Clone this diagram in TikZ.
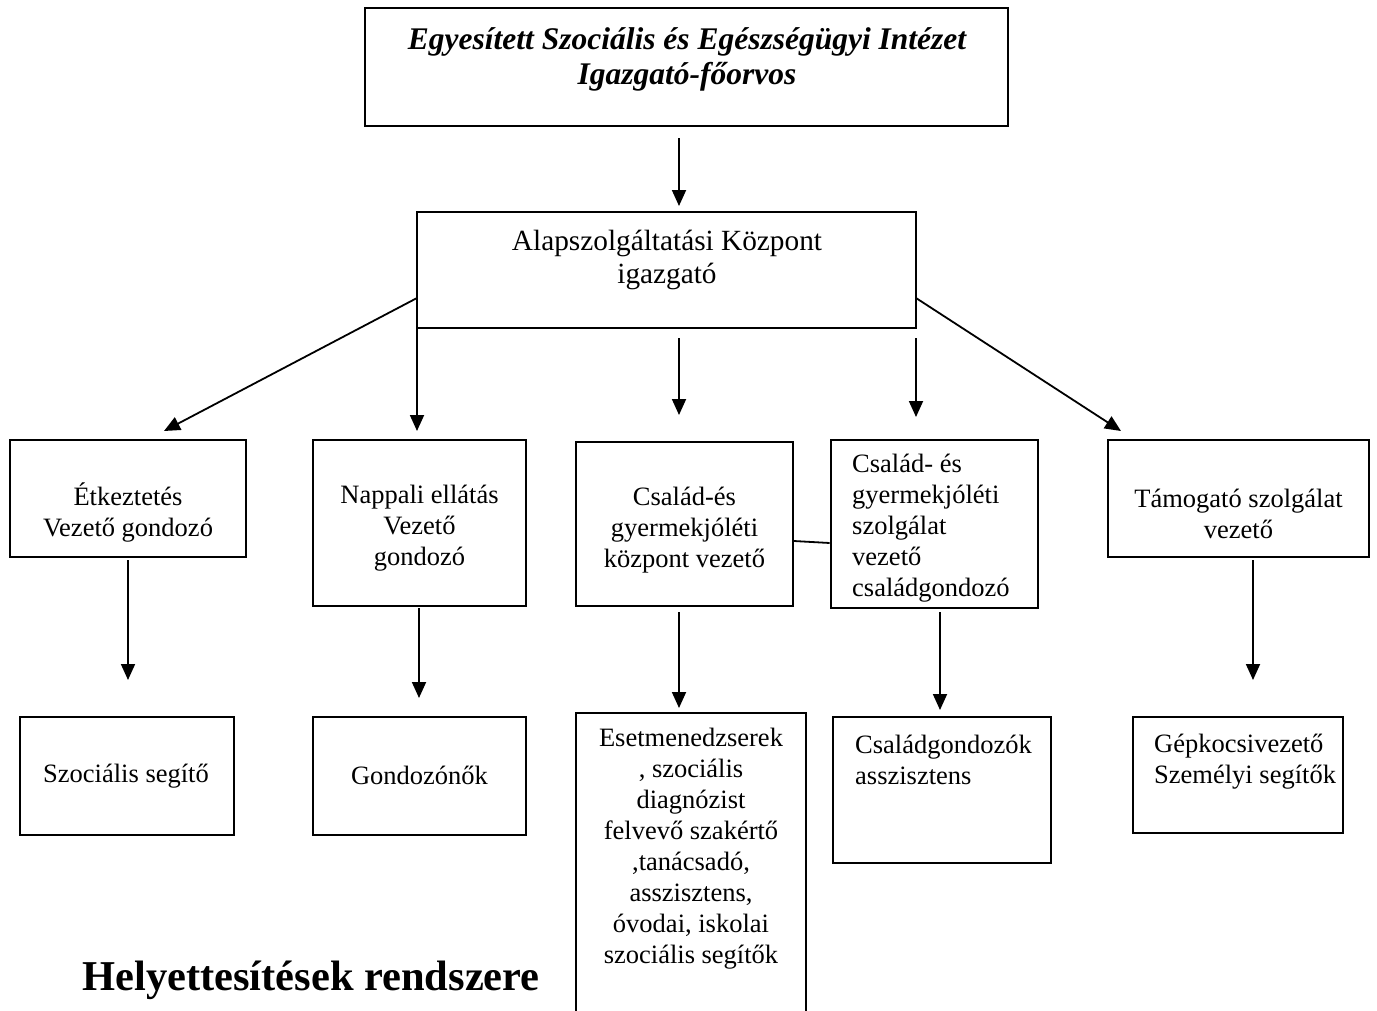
\documentclass[tikz,border=0pt]{standalone}
\usepackage{fontspec}
\setmainfont{Liberation Serif}
\usetikzlibrary{arrows.meta}
\begin{document}
\begin{tikzpicture}[x=1pt,y=-1pt,
  box/.style={draw, line width=1.8pt, inner sep=0pt},
  heavybox/.style={draw, line width=2.8pt, inner sep=0pt},
  txt/.style={inner sep=0pt, font=\fontsize{26.5}{31}\selectfont, align=center},
  ltxt/.style={inner sep=0pt, font=\fontsize{26.5}{31}\selectfont, align=left, anchor=west},
  arr/.style={line width=1.8pt, -{Triangle[length=16pt,width=14pt]}},
  link/.style={line width=1.8pt},
]
\useasboundingbox (0,0) rectangle (1377,1010);

% top
\node[box, minimum width=643pt, minimum height=118pt] (top) at (686.5,67) {};
\node[txt, font=\fontsize{31.5}{35}\selectfont\bfseries\itshape] (topt) at (687,59)
  {Egyesített Szociális és Egészségügyi Intézet\\Igazgató-főorvos};

% second level
\node[box, minimum width=499pt, minimum height=116pt] (alap) at (666.5,270) {};
\node[txt, font=\fontsize{29.3}{33}\selectfont] (alapt) at (667,260) {Alapszolgáltatási Központ\\igazgató};

% third level
\node[box, minimum width=236pt, minimum height=117pt] (etk) at (128,498.5) {};
\node[txt] (etkt) at (128,512) {Étkeztetés\\Vezető gondozó};

\node[box, minimum width=213pt, minimum height=166pt] (napp) at (419.5,523) {};
\node[txt] (nappt) at (419.5,528) {Nappali ellátás\\Vezető\\gondozó};

\node[box, minimum width=217pt, minimum height=164pt] (kozp) at (684.5,524) {};
\node[txt] (kozpt) at (684.5,530) {Család-és\\gyermekjóléti\\központ vezető};

\node[heavybox, minimum width=207pt, minimum height=168pt] (szolg) at (934.5,524) {};
\node[ltxt] (szolgt) at (852,528) {Család- és\\gyermekjóléti\\szolgálat\\vezető\\családgondozó};

\node[box, minimum width=261pt, minimum height=117pt] (tam) at (1238.5,498.5) {};
\node[txt] (tamt) at (1238.5,514) {Támogató szolgálat\\vezető};

% fourth level
\node[box, minimum width=214pt, minimum height=118pt] (szoc) at (127,776) {};
\node[txt] (szoct) at (126,776) {Szociális segítő};

\node[box, minimum width=213pt, minimum height=118pt] (gond) at (419.5,776) {};
\node[txt] (gondt) at (419.5,775) {Gondozónők};

\draw[link] (576,1015) |- (806,713) -- (806,1015);
\coordinate (eset) at (691,713);
\node[txt] (esett) at (691,848.5) {Esetmenedzserek\\, szociális\\diagnózist\\felvevő szakértő\\,tanácsadó,\\asszisztens,\\óvodai, iskolai\\szociális segítők};

\node[heavybox, minimum width=218pt, minimum height=146pt] (csg) at (942,790) {};
\node[ltxt] (csgt) at (855,759.5) {Családgondozók\\asszisztens};

\node[box, minimum width=210pt, minimum height=116pt] (gep) at (1238,775) {};
\node[ltxt] (gept) at (1154,761.5) {Gépkocsivezető\\Személyi segítők};

% title
\node[inner sep=0pt, font=\fontsize{42.5}{46}\selectfont\bfseries] (help) at (311,980) {Helyettesítések rendszere};

% connector coordinates
\coordinate (a0) at (679,138);  \coordinate (a1) at (679,206);
\coordinate (b0) at (417,298);  \coordinate (b1) at (164,431);
\coordinate (c0) at (417,328);  \coordinate (c1) at (417,431);
\coordinate (d0) at (679,338);  \coordinate (d1) at (679,415);
\coordinate (e0) at (916,338);  \coordinate (e1) at (916,417);
\coordinate (f0) at (916,298);  \coordinate (f1) at (1121,431);
\coordinate (g0) at (128,560);  \coordinate (g1) at (128,680);
\coordinate (h0) at (419,608);  \coordinate (h1) at (419,698);
\coordinate (i0) at (679,612);  \coordinate (i1) at (679,708);
\coordinate (j0) at (940,612);  \coordinate (j1) at (940,710);
\coordinate (k0) at (1253,560); \coordinate (k1) at (1253,680);

\draw[arr] (a0) -- (a1);
\draw[arr] (b0) -- (b1);
\draw[arr] (c0) -- (c1);
\draw[arr] (d0) -- (d1);
\draw[arr] (e0) -- (e1);
\draw[arr] (f0) -- (f1);
\draw[arr] (g0) -- (g1);
\draw[arr] (h0) -- (h1);
\draw[arr] (i0) -- (i1);
\draw[arr] (j0) -- (j1);
\draw[arr] (k0) -- (k1);
\draw[link] (kozp.east |- 0,541) -- (szolg.west |- 0,543);
\end{tikzpicture}
\end{document}
